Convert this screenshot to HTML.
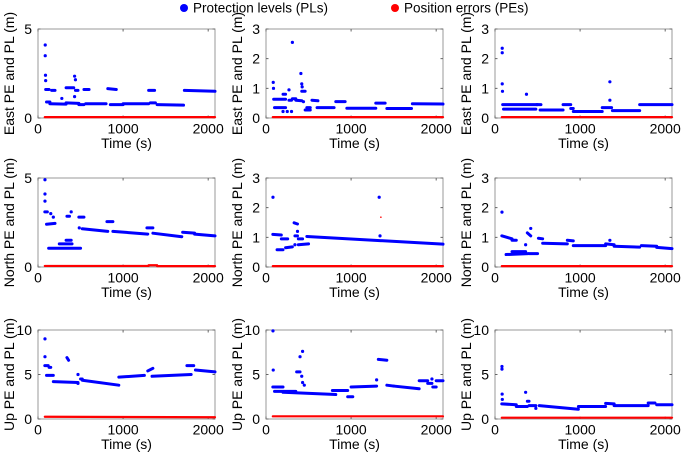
<!DOCTYPE html>
<html><head><meta charset="utf-8">
<style>
html,body{margin:0;padding:0;background:#fff;}
svg{display:block;font-family:"Liberation Sans",sans-serif;}
</style></head>
<body>
<svg id="chart" width="685" height="456" viewBox="0 0 685 456" xmlns="http://www.w3.org/2000/svg">
  <g>
    <g>
      <circle cx="184" cy="8" r="4" fill="#0000ff"/>
      <text x="193" y="12.5" font-size="13.5" fill="#000">Protection levels (PLs)</text>
    </g>
    <g>
      <circle cx="395" cy="8" r="4" fill="#ff0000"/>
      <text x="404" y="12.5" font-size="13.5" fill="#000">Position errors (PEs)</text>
    </g>
  </g>
</svg>
<script>
// Layout (not data)
const colX = [38, 266, 495];
const rowY = [29, 178, 330];
const W = 177, H = 89;
const XMAX = 2080;
const xTicks = [0, 1000, 2000];

// Panel axis labels and y scales
const yLabels = ["East PE and PL (m)", "North PE and PL (m)", "Up PE and PL (m)"];
const yMaxByRow = [[5, 3, 3], [5, 3, 3], [10, 10, 10]];
const yTicksByMax = {5: [0, 5], 3: [0, 1, 2, 3], 10: [0, 5, 10]};

// PL segments per panel: [t0, t1, v0, v1]
const plSegE1 = [[90,130,1.6,1.6],[160,200,1.55,1.55],[330,420,1.7,1.7],[440,470,1.55,1.55],[540,600,1.6,1.6],[820,920,1.65,1.6],[1300,1370,1.55,1.55],[1720,2080,1.55,1.5],
  [100,140,0.9,0.9],[140,330,0.8,0.78],[330,480,0.85,0.82],[480,540,0.75,0.75],[560,800,0.8,0.8],[850,1000,0.75,0.75],[1000,1300,0.8,0.8],[1320,1380,0.85,0.85],[1400,1710,0.75,0.72]];
const plPtsE1 = [[85,4.1],[85,3.5],[88,2.4],[90,2.1],[430,2.35],[440,2.15],[430,1.2],[280,1.1]];
const plSegE2 = [[90,230,0.63,0.63],[100,230,0.35,0.35],[200,230,0.8,0.8],[270,300,0.6,0.6],[310,350,0.65,0.65],[350,420,0.6,0.58],[420,460,0.9,0.9],[460,520,0.27,0.27],[480,520,0.35,0.35],[540,610,0.6,0.58],[600,800,0.35,0.35],[820,930,0.55,0.55],[950,1290,0.33,0.33],[1290,1400,0.5,0.5],[1420,1710,0.32,0.32],[1720,2080,0.48,0.47]];
const plPtsE2 = [[85,1.2],[88,1.0],[270,0.95],[310,2.55],[410,1.5],[420,1.15],[425,1.05],[440,0.55],[200,0.22],[250,0.22],[300,0.22]];
const plSegE3 = [[90,500,0.45,0.45],[100,480,0.3,0.3],[490,540,0.45,0.45],[530,800,0.27,0.27],[800,890,0.45,0.45],[890,920,0.32,0.32],[920,1260,0.22,0.22],[1260,1370,0.35,0.35],[1380,1700,0.25,0.25],[1700,2080,0.45,0.45]];
const plPtsE3 = [[85,2.35],[85,2.2],[85,1.15],[88,0.9],[370,0.8],[1350,1.22],[1350,0.6]];
const plSegN1 = [[80,110,3.1,3.1],[100,200,2.4,2.45],[125,500,1.05,1.05],[250,400,1.3,1.3],[330,390,1.5,1.5],[340,370,2.85,2.85],[480,540,2.8,2.8],[520,820,2.15,2.0],[810,880,2.55,2.55],[880,1290,2.0,1.85],[1280,1350,2.2,2.2],[1350,1690,1.9,1.7],[1700,1840,1.95,1.9],[1840,2080,1.85,1.75]];
const plPtsN1 = [[82,4.9],[82,4.1],[82,3.7],[150,3.0],[180,2.8],[390,3.1],[485,2.2]];
const plSegN2 = [[80,180,1.1,1.08],[180,255,0.95,0.95],[130,200,0.58,0.58],[230,310,0.65,0.68],[330,370,1.49,1.45],[340,370,1.05,1.05],[380,430,0.95,0.95],[380,500,0.75,0.78],[480,2080,1.03,0.77]];
const plPtsN2 = [[82,2.35],[340,0.75],[370,1.2],[1330,2.35],[1340,1.05]];
const plSegN3 = [[80,200,1.05,0.95],[200,250,0.9,0.9],[130,390,0.42,0.45],[200,360,0.52,0.52],[380,420,1.15,1.05],[400,500,0.45,0.45],[510,560,0.97,0.95],[560,850,0.8,0.78],[850,920,0.9,0.88],[920,1300,0.72,0.72],[1300,1400,0.78,0.75],[1400,1700,0.7,0.67],[1720,1900,0.72,0.7],[1900,2080,0.66,0.62]];
const plPtsN3 = [[82,1.85],[360,0.75],[420,1.3],[1350,0.9]];
const plSegU1 = [[80,120,6.0,6.0],[130,150,5.8,5.8],[100,180,4.9,4.9],[340,360,6.9,6.6],[180,470,4.2,4.1],[500,520,4.5,4.5],[520,950,4.35,3.8],[950,1250,4.7,4.9],[1290,1350,5.4,5.7],[1340,1800,4.8,5.0],[1750,1830,6.0,6.0],[1850,2080,5.5,5.3]];
const plPtsU1 = [[82,9.0],[82,7.0],[470,4.0],[470,5.0]];
const plSegU2 = [[80,200,3.6,3.6],[100,350,3.1,3.1],[200,820,3.0,2.75],[780,960,3.2,3.2],[960,1020,2.5,2.5],[360,400,5.3,5.3],[1000,1300,3.6,3.7],[1320,1420,6.7,6.6],[1420,1500,3.8,3.7],[1500,1800,3.7,3.4],[1800,1900,4.3,4.3],[1900,1950,4.0,4.0],[1960,2000,3.6,3.6],[2000,2080,4.3,4.3]];
const plPtsU2 = [[82,9.9],[85,5.5],[420,4.8],[400,7.0],[430,7.6],[430,4.1],[450,3.8],[1300,4.4],[1950,4.5]];
const plSegU3 = [[80,250,1.7,1.6],[250,380,1.4,1.4],[380,400,2.0,2.0],[400,480,1.5,1.5],[520,980,1.5,1.1],[980,1300,1.4,1.4],[1300,1400,1.75,1.7],[1400,1800,1.5,1.5],[1800,1880,1.8,1.8],[1900,2080,1.6,1.6]];
const plPtsU3 = [[82,5.6],[82,5.9],[84,2.8],[86,2.2],[360,3.0],[480,1.2]];
// PE (position error) levels per panel: [t0, t1, v0, v1]
const peSegE1 = [[80,2080,0.05,0.05]];
const peSegE2 = [[80,2080,0.03,0.03]];
const peSegE3 = [[80,2080,0.03,0.03]];
const peSegN1 = [[80,1300,0.06,0.06],[1300,1400,0.1,0.1],[1400,2080,0.05,0.05]];
const peSegN2 = [[80,2080,0.03,0.03]];
const peSegN3 = [[80,2080,0.03,0.03]];
const pePtsN2 = [[1350,1.68]];
const peSegU1 = [[80,2080,0.25,0.2]];
const peSegU2 = [[80,2080,0.3,0.3]];
const peSegU3 = [[80,2080,0.15,0.15]];

const panels = [
  [{pl:plSegE1,pp:plPtsE1,pe:peSegE1,pep:[]},{pl:plSegE2,pp:plPtsE2,pe:peSegE2,pep:[]},{pl:plSegE3,pp:plPtsE3,pe:peSegE3,pep:[]}],
  [{pl:plSegN1,pp:plPtsN1,pe:peSegN1,pep:[]},{pl:plSegN2,pp:plPtsN2,pe:peSegN2,pep:pePtsN2},{pl:plSegN3,pp:plPtsN3,pe:peSegN3,pep:[]}],
  [{pl:plSegU1,pp:plPtsU1,pe:peSegU1,pep:[]},{pl:plSegU2,pp:plPtsU2,pe:peSegU2,pep:[]},{pl:plSegU3,pp:plPtsU3,pe:peSegU3,pep:[]}]
];

const NS = "http://www.w3.org/2000/svg";
const svg = document.getElementById("chart");
function mk(tag, attrs, parent){
  const e = document.createElementNS(NS, tag);
  for (const k in attrs) e.setAttribute(k, attrs[k]);
  parent.appendChild(e);
  return e;
}

for (let r = 0; r < 3; r++) {
  for (let c = 0; c < 3; c++) {
    const x0 = colX[c], y0 = rowY[r];
    const ymax = yMaxByRow[r][c];
    const xs = t => x0 + t / XMAX * W;
    const ys = v => y0 + H - v / ymax * H;
    const p = panels[r][c];
    const g = mk("g", {}, svg);
    
    

    const box = mk("rect", {x:x0, y:y0, width:W, height:H, fill:"none", stroke:"#999", "stroke-width":1}, g);
    
    

    xTicks.forEach(t => {
      const tx = xs(t);
      const tk = mk("path", {d:`M${tx},${y0+H}v-2.5M${tx},${y0}v2.5`, stroke:"#666", "stroke-width":1}, g);
      
      
      const tl = mk("text", {x:tx, y:y0+H+15.5, "font-size":14, "text-anchor":"middle", fill:"#000"}, g);
      tl.textContent = t;
      
      
    });
    yTicksByMax[ymax].forEach(v => {
      const ty = ys(v);
      const tk = mk("path", {d:`M${x0},${ty}h2.5M${x0+W},${ty}h-2.5`, stroke:"#666", "stroke-width":1}, g);
      
      
      const tl = mk("text", {x:x0-6, y:ty+5, "font-size":14, "text-anchor":"end", fill:"#000"}, g);
      tl.textContent = v;
      
      
    });
    const xt = mk("text", {x:x0+W/2, y:y0+H+30, "font-size":14, "text-anchor":"middle", fill:"#000"}, g);
    xt.textContent = "Time (s)";
    
    
    const cxl = x0 - 24, cyl = y0 + H/2;
    const yt = mk("text", {x:cxl, y:cyl, "font-size":14, "text-anchor":"middle", fill:"#000", transform:`rotate(-90 ${cxl} ${cyl})`}, g);
    yt.textContent = yLabels[r];
    
    

    p.pe.forEach(s => {
      const l = mk("line", {x1:xs(s[0]), x2:xs(s[1]), y1:ys(s[2]), y2:ys(s[3]), stroke:"#ff0000", "stroke-width":2.2, "stroke-linecap":"round"}, g);
      
      
    });
    p.pep.forEach(pt => {
      const d = mk("circle", {cx:xs(pt[0]), cy:ys(pt[1]), r:0.8, fill:"#ff0000"}, g);
      
      
    });
    p.pl.forEach(s => {
      const l = mk("line", {x1:xs(s[0]), x2:xs(s[1]), y1:ys(s[2]), y2:ys(s[3]), stroke:"#0000ff", "stroke-width":3, "stroke-linecap":"round"}, g);
      
      
    });
    p.pp.forEach(pt => {
      const d = mk("circle", {cx:xs(pt[0]), cy:ys(pt[1]), r:1.6, fill:"#0000ff"}, g);
      
      
    });
  }
}
</script>
</body></html>
